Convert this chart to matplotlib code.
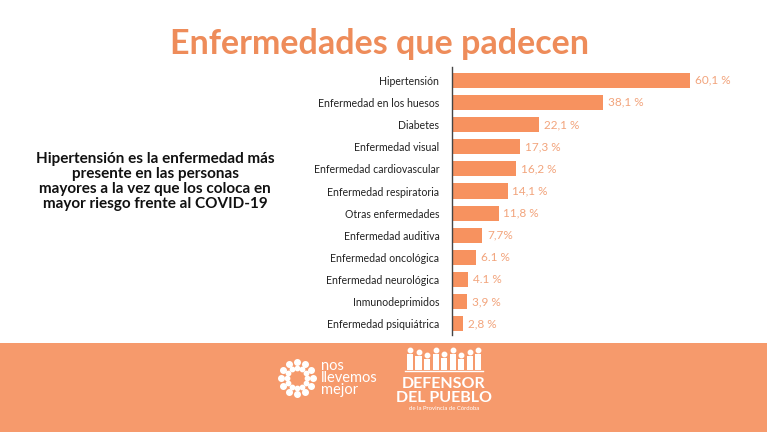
import numpy as np
import matplotlib.pyplot as plt
from matplotlib.patches import Rectangle

# Data
categories = ['Hipertensión', 'Enfermedad en los huesos', 'Diabetes', 'Enfermedad visual',
              'Enfermedad cardiovascular', 'Enfermedad respiratoria', 'Otras enfermedades',
              'Enfermedad auditiva', 'Enfermedad oncológica', 'Enfermedad neurológica',
              'Inmunodeprimidos', 'Enfermedad psiquiátrica']
values = [60.1, 38.1, 22.1, 17.3, 16.2, 14.1, 11.8, 7.7, 6.1, 4.1, 3.9, 2.8]
value_labels = ['60,1 %', '38,1 %', '22,1 %', '17,3 %', '16,2 %', '14,1 %', '11,8 %',
                '7,7%', '6.1 %', '4.1 %', '3,9 %', '2,8 %']

bar_color = '#F7925F'
label_color = '#F2A47C'
title_color = '#EE8C5A'
band_color = '#F69A6C'

plt.rcParams['font.family'] = ['Lato', 'DejaVu Sans']

fig = plt.figure(figsize=(7.67, 4.32), dpi=100)
fig.patch.set_facecolor('white')

# Chart area
ax = fig.add_axes([0.589, 0.2245, 0.362, 0.6205])
y = np.arange(len(categories))
ax.barh(y, values, height=0.68, color=bar_color)
for yi, v, lab in zip(y, values, value_labels):
    ax.text(v + 1.2, yi, lab, va='center', ha='left', fontsize=8.5, color=label_color)
ax.set_xlim(0, 70)
ax.set_ylim(11.5, -0.6)
ax.set_yticks(y)
ax.set_yticklabels(categories, fontsize=7.6, color='#222222')
ax.tick_params(axis='y', length=0, pad=9)
ax.set_xticks([])
for s in ['top', 'right', 'bottom']:
    ax.spines[s].set_visible(False)
ax.spines['left'].set_color('#444444')
ax.spines['left'].set_linewidth(1.0)

# Title
fig.text(380 / 767, 0.898, 'Enfermedades que padecen', ha='center', va='center',
         fontsize=24.5, fontweight='bold', color=title_color)

# Side note
fig.text(155 / 767, 0.58, 'Hipertensión es la enfermedad más\npresente en las personas\n'
         'mayores a la vez que los coloca en\nmayor riesgo frente al COVID-19',
         ha='center', va='center', fontsize=11, fontweight='bold', color='#111111',
         linespacing=1.1)

# Bottom band
fig.patches.append(Rectangle((0, 0), 1, 0.206, transform=fig.transFigure,
                             facecolor=band_color, edgecolor='none', zorder=0))

# "nos llevemos mejor" logo: ring of dots
ang = np.linspace(0, 2 * np.pi, 12, endpoint=False)
cx, cy = 297 / 767, 1 - 378 / 432
for r, sz in [(16, 16), (10, 10)]:
    fig.add_artist(plt.Line2D(cx + r * np.cos(ang) / 767, cy + r * np.sin(ang) / 432,
                              linestyle='none', marker='o', markersize=np.sqrt(sz),
                              color='white', transform=fig.transFigure))
fig.text(321 / 767, 1 - 378 / 432, 'nos\nllevemos\nmejor', ha='left', va='center',
         fontsize=10.5, color='white', linespacing=0.8)

# "Defensor del Pueblo" logo
fx = np.linspace(410, 478, 9) / 767
heads_y = np.array([350, 352, 355, 350, 354, 350, 355, 352, 350])
fig.add_artist(plt.Line2D(fx, 1 - heads_y / 432, linestyle='none', marker='o',
                          markersize=3.2, color='white', transform=fig.transFigure))
for xi, hy in zip(fx, heads_y):
    fig.patches.append(Rectangle((xi - 3 / 767, 1 - 370 / 432), 6 / 767, (370 - hy - 4) / 432,
                                 transform=fig.transFigure, facecolor='white', edgecolor='none'))
fig.add_artist(plt.Line2D([405 / 767, 483 / 767], [1 - 371 / 432] * 2, color='white',
                          linewidth=1, transform=fig.transFigure))
fig.text(444 / 767, 1 - 384 / 432, 'DEFENSOR', ha='center', va='center', fontsize=11.5,
         fontweight='bold', color='white')
fig.text(444 / 767, 1 - 398 / 432, 'DEL PUEBLO', ha='center', va='center', fontsize=11.5,
         fontweight='bold', color='white')
fig.text(444 / 767, 1 - 409 / 432, 'de la Provincia de Córdoba', ha='center', va='center',
         fontsize=4.3, color='white')

plt.savefig('out.png', dpi=100)
